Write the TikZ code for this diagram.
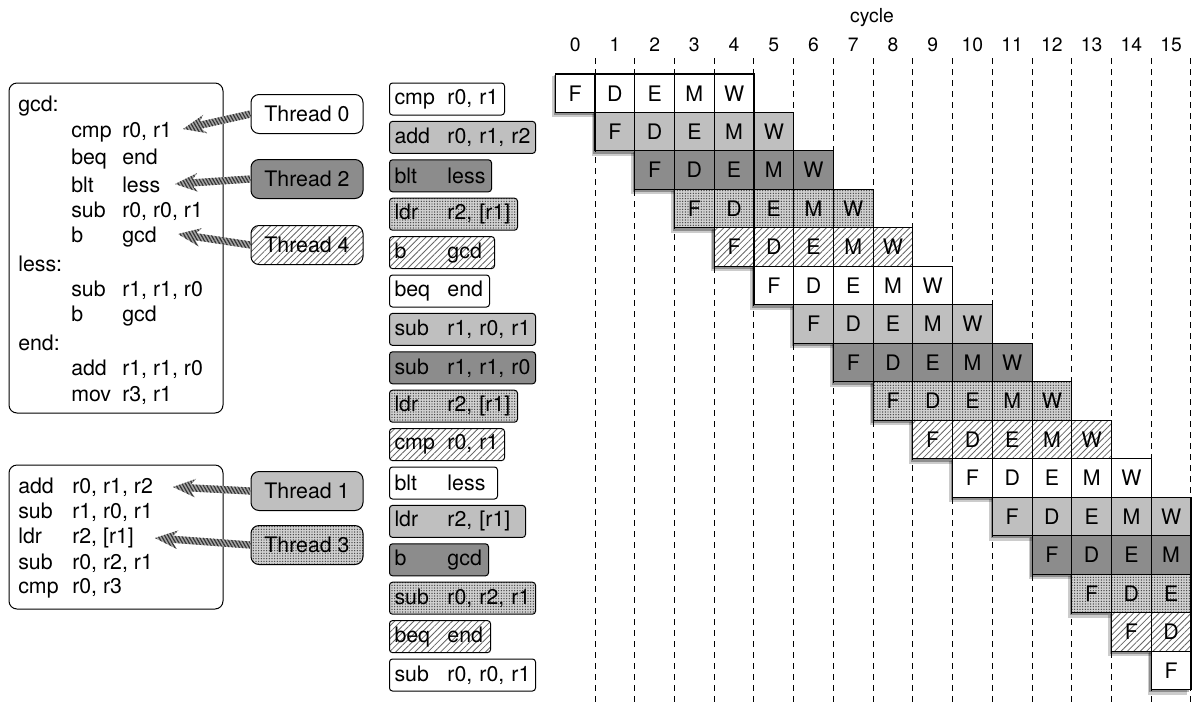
\documentclass[tikz,border=0pt]{standalone}
\usepackage{fontspec}
\setmainfont{TeX Gyre Heros}
\usetikzlibrary{patterns.meta,calc}
\newdimen\pxu \pxu=0.75pt
\newcommand\mn[1]{\makebox[53\pxu][l]{#1}}
\newcommand\cmn[1]{\makebox[51\pxu][l]{#1}}
\newcommand\dmn[1]{\makebox[54\pxu][l]{#1}}
\tikzset{
 txt/.style={font=\fontsize{16}{19}\selectfont, inner sep=0pt},
 lbl/.style={font=\fontsize{14.5}{17}\selectfont, inner sep=0pt},
 th0/.style={fill=white},
 th1/.style={fill=black!25},
 th2/.style={fill=black!45},
 th3/.style={preaction={fill=black!18}, pattern={Dots[distance=2pt,radius=0.55pt]}, pattern color=black!75},
 th4/.style={preaction={fill=white}, pattern={Lines[angle=45,distance=3.4pt,line width=0.6pt]}, pattern color=black!60},
 ibox/.style={txt, draw, line width=1\pxu, rounded corners=3\pxu, anchor=west, minimum height=32\pxu, inner xsep=5\pxu, align=left},
 codebox/.style={draw, line width=1\pxu, rounded corners=8\pxu, inner sep=0pt},
 codetxt/.style={txt, anchor=west},
 thbox/.style={txt, draw, line width=1\pxu, rounded corners=8\pxu, minimum width=112\pxu, minimum height=39\pxu},
 cell/.style={txt, draw, line width=1.1\pxu, minimum width=39.73\pxu, minimum height=38.47\pxu},
 dashline/.style={line width=1\pxu, dash pattern=on 5.5\pxu off 5.5\pxu},
 fatarrowstyle/.style={fill=black!35, postaction={pattern={Lines[angle=-60,distance=2.2pt,line width=0.9pt]}, pattern color=black!80}},
}
\newcommand\fatarrow[2]{%
 \path[fatarrowstyle] let \p1=(#1), \p2=(#2), \n1={atan2(\y1-\y2,\x1-\x2)} in
   (\p2) -- ($(\p2)+(\n1:17pt)+(\n1+90:7pt)$) -- ($(\p2)+(\n1:13.5pt)+(\n1+90:2.7pt)$)
   -- ($(\p1)+(\n1+90:2.7pt)$) -- ($(\p1)+(\n1-90:2.7pt)$)
   -- ($(\p2)+(\n1:13.5pt)+(\n1-90:2.7pt)$) -- ($(\p2)+(\n1:17pt)+(\n1-90:7pt)$) -- cycle;
}
\newcommand\piperow[2]{%
 \pgfmathtruncatemacro\rowlast{min(#1+4,15)}%
 \pgfmathsetmacro\rowxa{555.3+39.73*#1}%
 \pgfmathsetmacro\rowxb{555.3+39.73*(\rowlast+1)}%
 \pgfmathsetmacro\rowya{74+38.47*#1}%
 \pgfmathsetmacro\rowyb{\rowya+38.47}%
 \fill[black, opacity=.2] (\rowxa-3.5,\rowya+2) rectangle (\rowxb-3.5,\rowyb+5);
 \fill[black, opacity=.3] (\rowxa-1.8,\rowya+1) rectangle (\rowxb-1.8,\rowyb+2.8);
 \foreach \s [count=\k from 0] in {F,D,E,M,W}{%
   \pgfmathtruncatemacro\cc{#1+\k}%
   \ifnum\cc<16
     \node[cell,#2] (p#1s\k) at ({575.17+39.73*\cc},{\rowya+19.235}) {\s};
   \fi
 }%
}
\begin{document}
\begin{tikzpicture}[x=0.75pt, y=-0.75pt]
\useasboundingbox (0,0) rectangle (1200,708);

% cycle header
\node[lbl] (cyc) at (872,18) {cycle};
\foreach \k in {0,...,15} {
  \node[lbl] (cy\k) at ({575.17+39.73*\k},45) {\k};
  \draw[dashline] ({595+39.73*\k},58) -- ({595+39.73*\k},705);
}

% pipeline rows
\piperow{0}{th0}
\piperow{1}{th1}
\piperow{2}{th2}
\piperow{3}{th3}
\piperow{4}{th4}
\piperow{5}{th0}
\piperow{6}{th1}
\piperow{7}{th2}
\piperow{8}{th3}
\piperow{9}{th4}
\piperow{10}{th0}
\piperow{11}{th1}
\piperow{12}{th2}
\piperow{13}{th3}
\piperow{14}{th4}
\piperow{15}{th0}

% instruction list
\node[ibox,th0,text width=105\pxu] (i0) at (389,99) {\mn{cmp}r0, r1};
\node[ibox,th1,text width=136\pxu] (i1) at (389,137.4) {\mn{add}r0, r1, r2};
\node[ibox,th2,text width=92\pxu] (i2) at (389,175.8) {\mn{blt}less};
\node[ibox,th3,text width=118\pxu] (i3) at (389,214.2) {\mn{ldr}r2, [r1]};
\node[ibox,th4,text width=95\pxu] (i4) at (389,252.6) {\mn{b}gcd};
\node[ibox,th0,text width=90\pxu] (i5) at (389,291) {\mn{beq}end};
\node[ibox,th1,text width=136\pxu] (i6) at (389,329.4) {\mn{sub}r1, r0, r1};
\node[ibox,th2,text width=136\pxu] (i7) at (389,367.8) {\mn{sub}r1, r1, r0};
\node[ibox,th3,text width=118\pxu] (i8) at (389,406.2) {\mn{ldr}r2, [r1]};
\node[ibox,th4,text width=105\pxu] (i9) at (389,444.6) {\mn{cmp}r0, r1};
\node[ibox,th0,text width=98\pxu] (i10) at (389,483) {\mn{blt}less};
\node[ibox,th1,text width=126\pxu] (i11) at (389,521.4) {\mn{ldr}r2, [r1]};
\node[ibox,th2,text width=89\pxu] (i12) at (389,559.8) {\mn{b}gcd};
\node[ibox,th3,text width=136\pxu] (i13) at (389,598.2) {\mn{sub}r0, r2, r1};
\node[ibox,th4,text width=91\pxu] (i14) at (389,636.6) {\mn{beq}end};
\node[ibox,th0,text width=136\pxu] (i15) at (389,675) {\mn{sub}r0, r0, r1};

% code box 1
\node[codebox, minimum width=214\pxu, minimum height=330\pxu] (code1) at (116,248) {};
\node[codetxt] (g0) at (18,106) {gcd:};
\node[codetxt] (g1) at (71,132.3) {\cmn{cmp}r0, r1};
\node[codetxt] (g2) at (71,158.6) {\cmn{beq}end};
\node[codetxt] (g3) at (71,184.9) {\cmn{blt}less};
\node[codetxt] (g4) at (71,211.2) {\cmn{sub}r0, r0, r1};
\node[codetxt] (g5) at (71,237.5) {\cmn{b}gcd};
\node[codetxt] (g6) at (18,263.8) {less:};
\node[codetxt] (g7) at (71,290.1) {\cmn{sub}r1, r1, r0};
\node[codetxt] (g8) at (71,316.4) {\cmn{b}gcd};
\node[codetxt] (g9) at (18,342.7) {end:};
\node[codetxt] (g10) at (71,369) {\cmn{add}r1, r1, r0};
\node[codetxt] (g11) at (71,395.3) {\cmn{mov}r3, r1};

% code box 2
\node[codebox, minimum width=214\pxu, minimum height=144\pxu] (code2) at (116,537) {};
\node[codetxt] (h0) at (18,487) {\dmn{add}r0, r1, r2};
\node[codetxt] (h1) at (18,512.3) {\dmn{sub}r1, r0, r1};
\node[codetxt] (h2) at (18,537.6) {\dmn{ldr}r2, [r1]};
\node[codetxt] (h3) at (18,562.9) {\dmn{sub}r0, r2, r1};
\node[codetxt] (h4) at (18,588.2) {\dmn{cmp}r0, r3};

% threads
\node[thbox,th0] (t0) at (307,114) {Thread 0};
\node[thbox,th2] (t2) at (307,179) {Thread 2};
\node[thbox,th4] (t4) at (307,245) {Thread 4};
\node[thbox,th1] (t1) at (307,491) {Thread 1};
\node[thbox,th3] (t3) at (307,545) {Thread 3};

% arrow tips
\coordinate (tip0) at (183,129);
\coordinate (tip2) at (175,184);
\coordinate (tip4) at (178,234);
\coordinate (tip1) at (173,487);
\coordinate (tip3) at (155,538);

\fatarrow{t0.west}{tip0}
\fatarrow{t2.west}{tip2}
\fatarrow{t4.west}{tip4}
\fatarrow{t1.west}{tip1}
\fatarrow{t3.west}{tip3}
\end{tikzpicture}
\end{document}
